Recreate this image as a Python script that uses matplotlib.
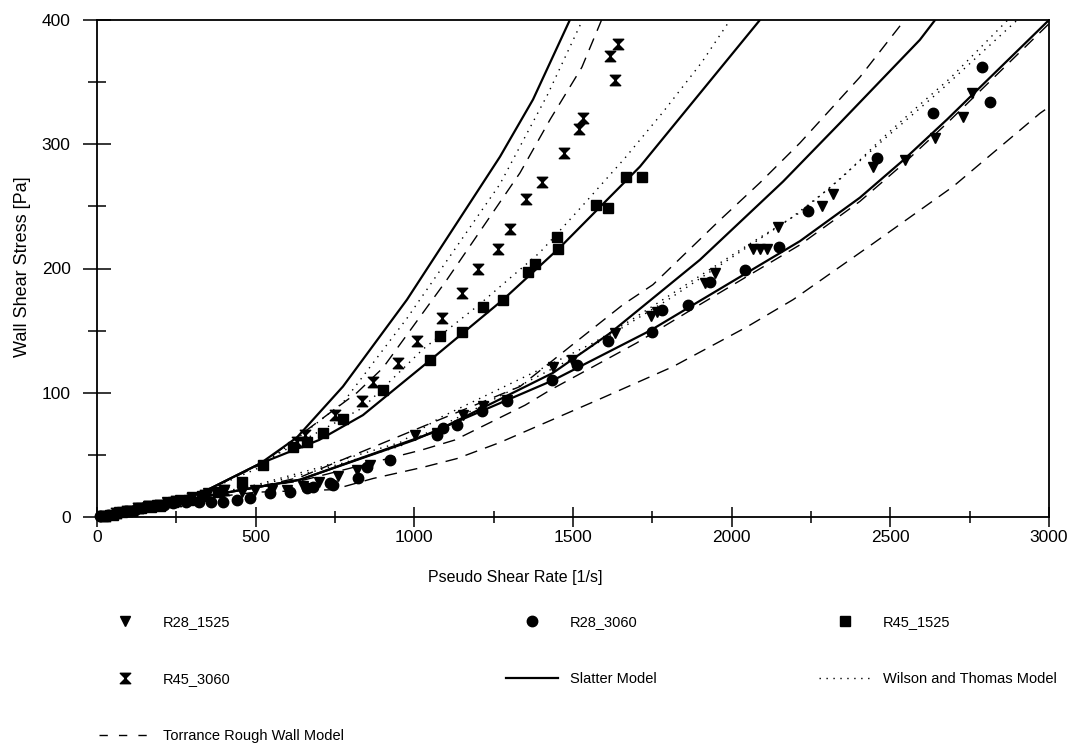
import numpy as np
import matplotlib.pyplot as plt
from matplotlib.path import Path
from matplotlib.lines import Line2D

plt.rcParams['font.family'] = ['Liberation Sans', 'DejaVu Sans']

r28_1525_x = [15, 40, 70, 100, 130, 160, 190, 220, 260, 300, 350, 400, 457, 498, 550, 600, 650, 700, 760,
              819, 860, 1002, 1071, 1153, 1216, 1292, 1437, 1497, 1632, 1745, 1765, 1916, 1948, 2067, 2090,
              2111, 2146, 2285, 2319, 2445, 2546, 2641, 2729, 2757]
r28_1525_y = [1, 2, 4, 5, 7, 9, 10, 12, 14, 16, 19, 21, 20, 22, 22, 22, 25, 28, 33,
              38, 42, 66, 68, 82, 89, 94, 121, 126, 148, 162, 165, 188, 196, 216, 216,
              216, 233, 250, 260, 282, 287, 305, 322, 341]

r28_3060_x = [10, 35, 60, 90, 120, 150, 180, 210, 240, 280, 320, 360, 397, 441, 482, 545, 608, 662, 681,
              734, 744, 822, 850, 923, 1071, 1090, 1134, 1213, 1292, 1434, 1512, 1610, 1749, 1780, 1862,
              1932, 2042, 2149, 2240, 2458, 2635, 2789, 2814]
r28_3060_y = [0.5, 2, 3, 5, 6, 8, 9, 10, 11, 12, 12, 12, 12, 14, 15, 19, 20, 23, 24,
              27, 26, 31, 40, 46, 66, 72, 74, 85, 93, 110, 122, 142, 149, 167, 171,
              189, 199, 217, 246, 289, 325, 362, 334]

r45_1525_x = [20, 50, 80, 110, 140, 170, 200, 240, 290, 330, 380, 457, 523, 618, 662, 712, 775, 901,
              1049, 1081, 1150, 1216, 1280, 1358, 1380, 1450, 1453, 1572, 1610, 1667, 1717]
r45_1525_y = [1, 2, 4, 5, 7, 8, 9, 12, 14, 17, 20, 28, 42, 56, 60, 68, 79, 102,
              126, 146, 149, 169, 175, 197, 204, 225, 216, 251, 249, 274, 274]

r45_3060_x = [25, 60, 95, 130, 165, 200, 250, 300, 340, 400, 630, 655, 750, 835, 870, 949, 1008, 1087,
              1150, 1200, 1265, 1301, 1352, 1402, 1472, 1519, 1532, 1617, 1632, 1642]
r45_3060_y = [1, 3, 5, 7, 9, 10, 13, 15, 18, 22, 60, 66, 82, 93, 109, 124, 142, 160,
              180, 200, 216, 232, 256, 270, 293, 312, 321, 371, 352, 381]

# model curves
slatter = [
    ([0, 200, 334, 514, 630, 775, 977, 1270, 1374, 1490], [0, 12, 20, 43, 64, 105, 175, 290, 336, 400]),
    ([0, 200, 334, 514, 700, 838, 1049, 1280, 1459, 1711, 2089], [0, 12, 20, 43, 62, 82, 126, 175, 217, 282, 400]),
    ([0, 262, 504, 640, 1059, 1437, 1617, 1900, 2162, 2341, 2593, 2641],
     [0, 13, 24, 30, 68, 116, 148, 207, 270, 317, 384, 400]),
    ([0, 262, 504, 640, 1000, 1437, 1743, 1900, 2215, 2404, 2540, 2679, 3000],
     [0, 13, 24, 30, 62, 110, 150, 174, 222, 257, 287, 320, 400]),
]
wilson = [
    ([0, 200, 334, 514, 775, 977, 1270, 1420, 1530], [0, 12, 20, 40, 92, 160, 268, 340, 400]),
    ([0, 200, 334, 514, 838, 1027, 1200, 1396, 1528, 1664, 1784, 1906, 1995],
     [0, 12, 20, 43, 88, 135, 170, 213, 250, 289, 326, 366, 400]),
    ([0, 262, 504, 703, 797, 955, 1081, 1406, 1563, 1680, 2058, 2215, 2351, 2467, 2571, 2688, 2870],
     [0, 13, 26, 40, 48, 60, 80, 120, 140, 158, 220, 245, 274, 303, 327, 353, 400]),
    ([0, 262, 504, 703, 955, 1200, 1500, 1800, 2184, 2300, 2489, 2657, 2900],
     [0, 13, 25, 38, 57, 88, 128, 175, 240, 263, 306, 343, 400]),
]
torrance = [
    ([0, 200, 334, 514, 819, 901, 1100, 1333, 1428, 1528, 1590], [0, 12, 20, 42, 100, 120, 190, 277, 320, 362, 400]),
    ([0, 262, 504, 640, 1000, 1333, 1490, 1658, 1752, 1963, 2089, 2215, 2404, 2545],
     [0, 13, 24, 32, 70, 105, 137, 171, 187, 239, 269, 301, 354, 400]),
    ([0, 262, 504, 640, 1024, 1128, 1349, 1427, 1700, 1900, 2215, 2404, 2540, 2679, 3000],
     [0, 13, 24, 29, 54, 62, 90, 102, 140, 171, 219, 254, 284, 317, 397]),
    ([0, 262, 504, 744, 870, 1027, 1134, 1270, 1459, 1585, 1815, 2048, 2194, 2445, 2698, 2972, 3000],
     [0, 13, 20, 22, 31, 40, 47, 60, 81, 95, 121, 153, 175, 220, 266, 325, 330]),
]

# hourglass marker
hourglass = Path([(-1, 1), (1, 1), (0, 0), (-1, 1), (-1, -1), (1, -1), (0, 0), (-1, -1)],
                 [Path.MOVETO, Path.LINETO, Path.LINETO, Path.CLOSEPOLY,
                  Path.MOVETO, Path.LINETO, Path.LINETO, Path.CLOSEPOLY])

fig = plt.figure(figsize=(10.75, 7.46), dpi=100)
ax = fig.add_axes([97 / 1075, 1 - 517 / 746, (1049 - 97) / 1075, (517 - 20) / 746])

for xs, ys in wilson:
    ax.plot(xs, ys, color='black', lw=1.0, linestyle=(0, (1, 4)))
for xs, ys in torrance:
    ax.plot(xs, ys, color='black', lw=1.0, linestyle=(0, (9, 6)))
for xs, ys in slatter:
    ax.plot(xs, ys, color='black', lw=1.6)

ms = 7.5
ax.plot(r28_1525_x, r28_1525_y, 'v', color='black', ms=ms, clip_on=False)
ax.plot(r28_3060_x, r28_3060_y, 'o', color='black', ms=ms, clip_on=False)
ax.plot(r45_1525_x, r45_1525_y, 's', color='black', ms=ms - 0.5, clip_on=False)
ax.plot(r45_3060_x, r45_3060_y, marker=hourglass, linestyle='none', color='black', ms=ms, clip_on=False)

ax.set_xlim(0, 3000)
ax.set_ylim(0, 400)
ax.set_xticks(np.arange(0, 3001, 500))
ax.set_xticks(np.arange(250, 3000, 500), minor=True)
ax.set_yticks(np.arange(0, 401, 100))
ax.set_yticks(np.arange(50, 400, 100), minor=True)
ax.tick_params(axis='y', which='major', direction='inout', length=20, width=1.1, labelsize=12.5, pad=9)
ax.tick_params(axis='y', which='minor', direction='inout', length=13, width=1.1)
ax.tick_params(axis='x', which='major', direction='inout', length=14, width=1.1, labelsize=12.5, pad=2)
ax.tick_params(axis='x', which='minor', direction='inout', length=9, width=1.1)
for s in ax.spines.values():
    s.set_linewidth(1.3)

ax.set_xlabel('Pseudo Shear Rate [1/s]', fontsize=11.5)
ax.set_ylabel('Wall Shear Stress [Pa]', fontsize=13)
ax.xaxis.set_label_coords(0.439, -0.106)
ax.yaxis.set_label_coords(-0.069, 0.503)

# legend (column-major order so rows read left to right)
h_r28a = Line2D([], [], marker='v', linestyle='none', color='black', ms=ms)
h_r28b = Line2D([], [], marker='o', linestyle='none', color='black', ms=ms)
h_r45a = Line2D([], [], marker='s', linestyle='none', color='black', ms=ms - 0.5)
h_r45b = Line2D([], [], marker=hourglass, linestyle='none', color='black', ms=ms)
h_sl = Line2D([], [], color='black', lw=1.6)
h_wt = Line2D([], [], color='black', lw=1.0, linestyle=(0, (1, 4)))
h_tr = Line2D([], [], color='black', lw=1.0, linestyle=(0, (6, 8)))
handles = [h_r28a, h_r45b, h_tr, h_r28b, h_sl, h_r45a, h_wt]
labels = ['R28_1525', 'R45_3060', 'Torrance Rough Wall Model', 'R28_3060', 'Slatter Model',
          'R45_1525', 'Wilson and Thomas Model']
fig.legend(handles, labels, ncol=3, loc='upper left', bbox_to_anchor=(93 / 1075, 1 - 609 / 746),
           frameon=False, fontsize=10.5, handlelength=3.6, handletextpad=0.8,
           columnspacing=11.1, labelspacing=2.95, borderaxespad=0)

fig.savefig('out.png', dpi=100)
